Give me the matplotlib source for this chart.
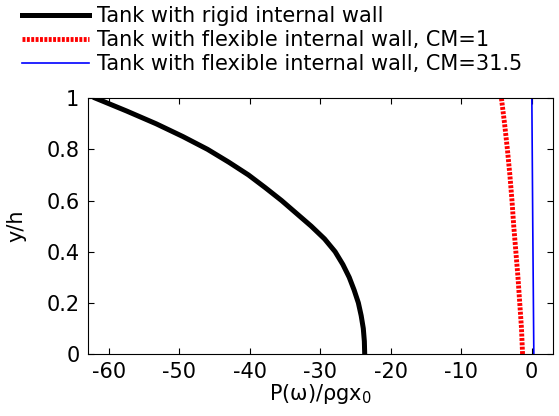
import matplotlib
matplotlib.use("Agg")
import matplotlib.pyplot as plt

plt.rcParams['font.family'] = ['DejaVu Sans']
plt.rcParams['mathtext.fontset'] = 'dejavusans'

# Data
y_rigid = [0.0, 0.05, 0.1, 0.15, 0.2, 0.25, 0.3, 0.35, 0.4, 0.45, 0.5,
           0.55, 0.6, 0.65, 0.7, 0.75, 0.8, 0.85, 0.9, 0.95, 1.0]
p_rigid = [-23.7, -23.75, -23.9, -24.2, -24.6, -25.2, -25.9, -26.8, -27.9, -29.4, -31.3,
           -33.4, -35.5, -37.8, -40.2, -43.0, -46.0, -49.5, -53.3, -57.5, -61.9]

y_cm1 = [0.0, 0.1, 0.2, 0.3, 0.4, 0.5, 0.6, 0.7, 0.8, 0.9, 1.0]
p_cm1 = [-1.3, -1.45, -1.7, -1.95, -2.25, -2.55, -2.8, -3.1, -3.45, -3.85, -4.3]

y_cm315 = [0.0, 0.5, 1.0]
p_cm315 = [0.3, 0.15, 0.02]

labels = ['Tank with rigid internal wall',
          'Tank with flexible internal wall, CM=1',
          'Tank with flexible internal wall, CM=31.5']

xticks = [-60, -50, -40, -30, -20, -10, 0]
yticks = [0, 0.2, 0.4, 0.6, 0.8, 1]
yticklabels = ['0', '0.2', '0.4', '0.6', '0.8', '1']

FS = 15

fig = plt.figure(figsize=(5.59, 4.16), dpi=100)
ax = fig.add_axes([0.157, 0.149, 0.832, 0.615])

l1, = ax.plot(p_rigid, y_rigid, color='black', lw=3.6, label=labels[0],
              solid_joinstyle='round')
l2, = ax.plot(p_cm1, y_cm1, color='#ff0000', lw=3.5, linestyle=(0, (0.6, 0.3)),
              label=labels[1])
l3, = ax.plot(p_cm315, y_cm315, color='#0000ff', lw=1.2, label=labels[2])

ax.set_xlim(-63, 3)
ax.set_ylim(0, 1)
ax.set_xticks(xticks)
ax.set_xticklabels([str(t) for t in xticks])
ax.set_yticks(yticks)
ax.set_yticklabels(yticklabels)
ax.tick_params(direction='in', top=True, right=True, length=4, width=0.8,
               labelsize=FS, pad=6)
for s in ax.spines.values():
    s.set_linewidth(0.8)

ax.set_xlabel('P(ω)/ρgx$_0$', fontsize=FS, labelpad=0)
ax.set_ylabel('y/h', fontsize=FS, labelpad=14)

fig.legend(handles=[l1, l2, l3], loc='upper left', bbox_to_anchor=(0.025, 1.006),
           frameon=False, fontsize=FS, handlelength=3.2, handletextpad=0.4,
           labelspacing=0.2, borderaxespad=0.0)

fig.savefig('out.png', dpi=100)
